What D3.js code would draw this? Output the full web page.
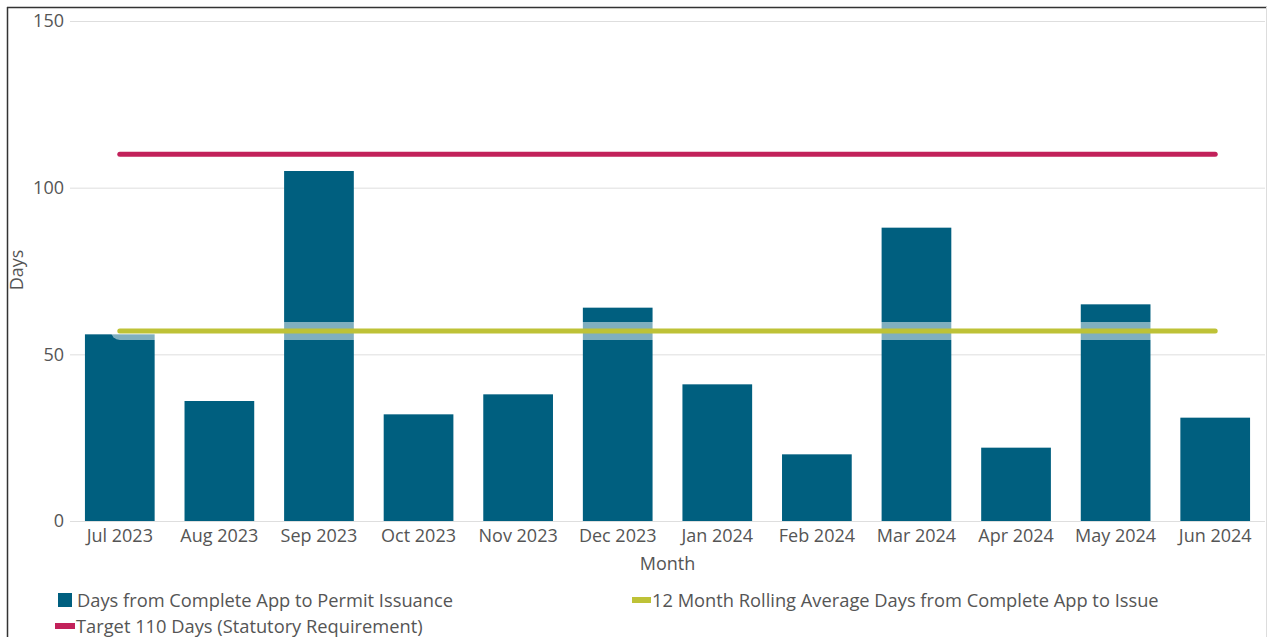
<!DOCTYPE html>
<html>
<head>
<meta charset="utf-8">
<script src="https://cdn.jsdelivr.net/npm/d3@7"></script>
<style>
  body { margin: 0; background: #fff; }
  svg { display: block; font-family: "Open Sans", sans-serif; }
</style>
</head>
<body>
<div id="chart"></div>
<script>
var months = ["Jul 2023", "Aug 2023", "Sep 2023", "Oct 2023", "Nov 2023", "Dec 2023",
              "Jan 2024", "Feb 2024", "Mar 2024", "Apr 2024", "May 2024", "Jun 2024"];
var daysToIssue = [56, 36, 105, 32, 38, 64, 41, 20, 88, 22, 65, 31];
var rollingAvg = [57, 57, 57, 57, 57, 57, 57, 57, 57, 57, 57, 57];
var target = [110, 110, 110, 110, 110, 110, 110, 110, 110, 110, 110, 110];
var yTicks = [0, 50, 100, 150];

var width = 1270, height = 637;
var plotLeft = 70, plotRight = 1265, plotTop = 21, plotBottom = 521;
var fontSize = 18, textColor = "#555";

var svg = d3.select("#chart").append("svg")
    .attr("width", width)
    .attr("height", height);

// frame
svg.append("line").attr("x1", 7.5).attr("x2", 7.5).attr("y1", 7).attr("y2", height)
    .attr("stroke", "#333").attr("stroke-width", 1.5);
svg.append("line").attr("x1", 7).attr("x2", 1267).attr("y1", 7.5).attr("y2", 7.5)
    .attr("stroke", "#333").attr("stroke-width", 1.5);
svg.append("line").attr("x1", 1266.5).attr("x2", 1266.5).attr("y1", 7).attr("y2", height)
    .attr("stroke", "#ddd").attr("stroke-width", 1);

var x = d3.scaleBand().domain(months).range([plotLeft, plotRight]).paddingInner(0.3).paddingOuter(0.15);
var y = d3.scaleLinear().domain([0, 150]).range([plotBottom, plotTop]);

// grid
svg.append("g").selectAll("line").data(yTicks).enter().append("line")
    .attr("x1", plotLeft).attr("x2", plotRight)
    .attr("y1", function(d){ return y(d) + 0.5; })
    .attr("y2", function(d){ return y(d) + 0.5; })
    .attr("stroke", "#dedede").attr("stroke-width", 1);

var yAxis = svg.append("g").attr("transform", "translate(" + (plotLeft - 6) + ",0)")
    .call(d3.axisLeft(y).tickValues(yTicks).tickSize(0).tickPadding(0));
yAxis.select(".domain").remove();
yAxis.selectAll("text").attr("font-size", fontSize).attr("fill", textColor)
    .attr("font-family", "Open Sans, sans-serif");

var xAxis = svg.append("g").attr("transform", "translate(0," + plotBottom + ")")
    .call(d3.axisBottom(x).tickSize(0).tickPadding(8));
xAxis.select(".domain").remove();
xAxis.selectAll("text").attr("font-size", fontSize).attr("fill", textColor)
    .attr("font-family", "Open Sans, sans-serif");

// bars
svg.append("g").selectAll("rect").data(daysToIssue).enter().append("rect")
    .attr("x", function(d, i){ return x(months[i]); })
    .attr("y", function(d){ return y(d); })
    .attr("width", x.bandwidth())
    .attr("height", function(d){ return plotBottom - y(d); })
    .attr("fill", "#005f7f");

var cx = function(d, i){ return x(months[i]) + x.bandwidth() / 2; };
var line = d3.line().x(cx).y(function(d){ return y(d); });

// rolling average with light halo
svg.append("path").datum(rollingAvg).attr("d", line)
    .attr("fill", "none").attr("stroke", "#fff").attr("stroke-opacity", 0.5)
    .attr("stroke-width", 18).attr("stroke-linecap", "round");
svg.append("path").datum(rollingAvg).attr("d", line)
    .attr("fill", "none").attr("stroke", "#bec237")
    .attr("stroke-width", 5).attr("stroke-linecap", "round");

// target
svg.append("path").datum(target).attr("d", line)
    .attr("fill", "none").attr("stroke", "#c2215a")
    .attr("stroke-width", 5).attr("stroke-linecap", "round");

// axis titles
svg.append("text").attr("x", (plotLeft + plotRight) / 2).attr("y", 570)
    .attr("text-anchor", "middle").attr("font-size", fontSize).attr("fill", textColor)
    .text("Month");
svg.append("text").attr("transform", "translate(23,270) rotate(-90)")
    .attr("text-anchor", "middle").attr("font-size", fontSize).attr("fill", textColor)
    .text("Days");

// legend
var legend = svg.append("g").attr("font-size", 18.3).attr("fill", textColor);
legend.append("rect").attr("x", 58).attr("y", 593).attr("width", 14).attr("height", 14)
    .attr("fill", "#005f7f");
legend.append("text").attr("x", 77).attr("y", 607)
    .text("Days from Complete App to Permit Issuance");
legend.append("rect").attr("x", 632).attr("y", 597).attr("width", 19).attr("height", 6)
    .attr("fill", "#bec237");
legend.append("text").attr("x", 652).attr("y", 607)
    .text("12 Month Rolling Average Days from Complete App to Issue");
legend.append("rect").attr("x", 55).attr("y", 623).attr("width", 20).attr("height", 6)
    .attr("fill", "#c2215a");
legend.append("text").attr("x", 76).attr("y", 633)
    .text("Target 110 Days (Statutory Requirement)");
</script>
</body>
</html>
